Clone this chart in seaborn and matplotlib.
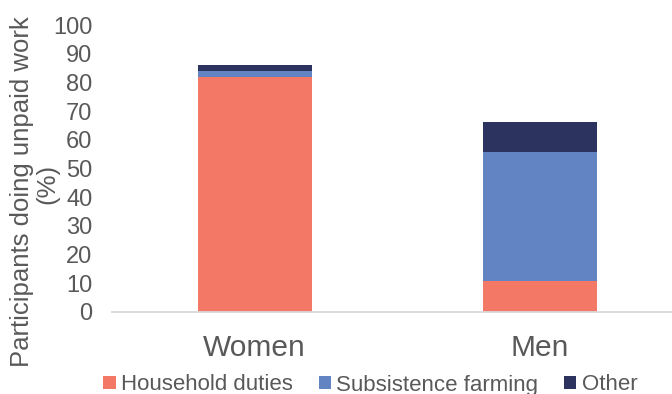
import matplotlib
matplotlib.use("Agg")
import matplotlib.pyplot as plt
from matplotlib.patches import Patch
import seaborn as sns
import pandas as pd

# Share of participants doing each kind of unpaid work (%)
groups = ["Women", "Men"]
household = [81.9, 10.8]
farming = [2.2, 44.8]
other = [2.1, 10.7]

series_names = ["Household duties", "Subsistence farming", "Other"]
colors = ["#F47866", "#6284C2", "#2D335F"]
text_color = "#595959"

sns.set_theme(style="white")
plt.rcParams["font.family"] = ["Liberation Sans", "DejaVu Sans"]

# Cumulative heights so the bars can be layered from tallest to shortest
df = pd.DataFrame({"group": groups, "household": household,
                   "farming": farming, "other": other})
df["lvl1"] = df["household"]
df["lvl2"] = df["lvl1"] + df["farming"]
df["lvl3"] = df["lvl2"] + df["other"]

fig = plt.figure(figsize=(6.72, 3.94), dpi=100)
ax = fig.add_axes([112 / 672, 82.3 / 394, 570 / 672, 286.7 / 394])

for col, color in zip(["lvl3", "lvl2", "lvl1"], colors[::-1]):
    sns.barplot(data=df, x="group", y=col, color=color, width=0.4,
                saturation=1, ax=ax, linewidth=0)

ax.set_xlim(-0.5, 1.5)
ax.set_ylim(0, 100)
ax.set_yticks(range(0, 101, 10))
ax.set_xlabel("")
ax.set_ylabel("")

# Two-line axis title, one text per line
fig.text(22 / 672, 202.5 / 394, "Participants doing unpaid work",
         rotation=90, ha="center", va="center", fontsize=18.5, color=text_color)
fig.text(47 / 672, 210 / 394, "(%)",
         rotation=90, ha="center", va="center", fontsize=18.5, color=text_color)

for side in ["top", "right", "left"]:
    ax.spines[side].set_visible(False)
ax.spines["bottom"].set_color("#D9D9D9")
ax.spines["bottom"].set_linewidth(1.3)

ax.tick_params(axis="y", length=0, labelsize=17, labelcolor=text_color, pad=14)
ax.tick_params(axis="x", length=0, labelsize=21.5, labelcolor=text_color, pad=16)

handles = [Patch(facecolor=c, edgecolor="none", label=n)
           for c, n in zip(colors, series_names)]
fig.legend(handles=handles, loc="center", bbox_to_anchor=(0.551, 9 / 394),
           ncol=3, frameon=False, fontsize=16, labelcolor=text_color,
           handlelength=0.55, handleheight=0.55, handletextpad=0.25,
           columnspacing=1.15)

fig.savefig("out.png", dpi=100)
